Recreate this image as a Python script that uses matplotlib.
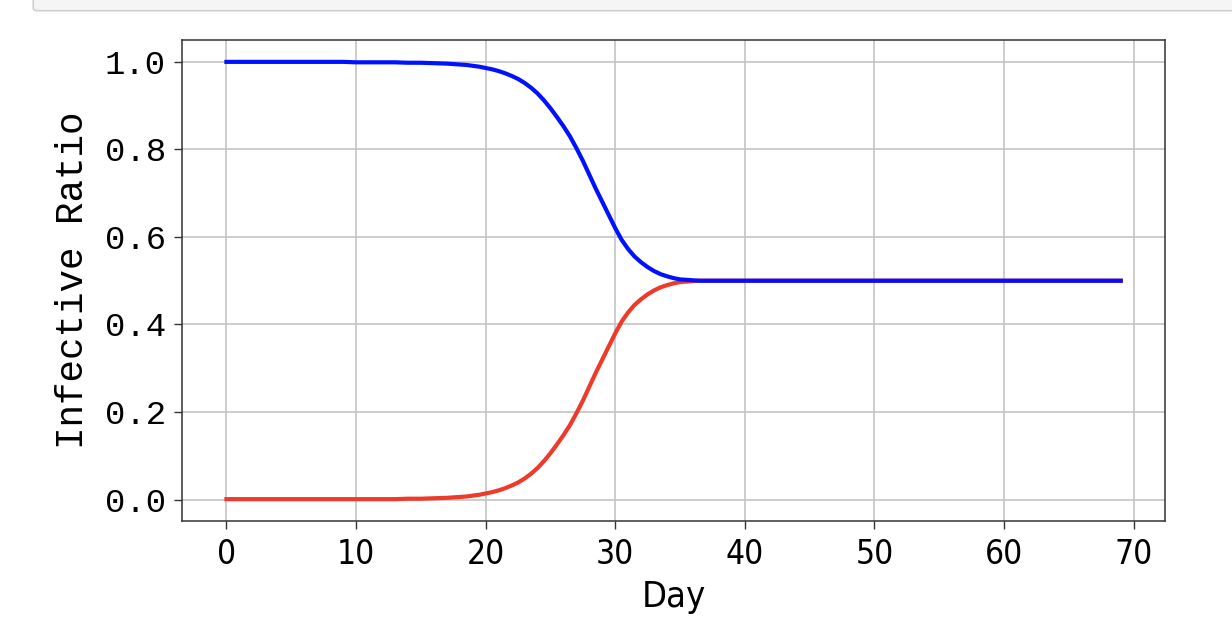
import matplotlib
matplotlib.use('Agg')
import matplotlib.pyplot as plt
from matplotlib.patches import FancyBboxPatch

# sample days: daily at the flat ends, half-day steps through the transition
days = list(range(0, 18)) + [x / 2 for x in range(36, 74)] + list(range(37, 70))

# values
infective = ([0.001] * 14 + [0.002, 0.002, 0.003, 0.004] +
             [0.006, 0.007, 0.009, 0.011, 0.014, 0.017, 0.021, 0.026, 0.032, 0.039,
              0.048, 0.059, 0.072, 0.088, 0.106, 0.126, 0.147, 0.170, 0.197, 0.226,
              0.258, 0.290, 0.320, 0.350, 0.380, 0.407, 0.428, 0.445, 0.458, 0.469,
              0.478, 0.485, 0.490, 0.494, 0.497, 0.498, 0.499, 0.500] +
             [0.500] * 33)

susceptible = ([1.000] * 10 + [0.999] * 4 + [0.998, 0.998, 0.997, 0.996] +
               [0.994, 0.993, 0.991, 0.989, 0.986, 0.983, 0.979, 0.974, 0.968, 0.961,
                0.952, 0.941, 0.928, 0.912, 0.894, 0.874, 0.853, 0.830, 0.803, 0.774,
                0.742, 0.710, 0.680, 0.650, 0.620, 0.593, 0.572, 0.555, 0.542, 0.531,
                0.522, 0.515, 0.510, 0.506, 0.503, 0.502, 0.501, 0.500] +
               [0.500] * 33)

mono = ['Liberation Mono', 'DejaVu Sans Mono']
narrow = ['DejaVu Sans']

fig = plt.figure(figsize=(12.32, 6.3), dpi=100)
ax = fig.add_axes([0.1475, 0.1730, 0.7985, 0.7635])

# notebook cell border at the top of the screenshot
fig.patches.append(FancyBboxPatch((0.027, 0.983), 1.0, 0.04, boxstyle='round,pad=0,rounding_size=0.004',
                                  transform=fig.transFigure, facecolor='#f5f5f5',
                                  edgecolor='#cfcfcf', linewidth=1.2, figure=fig))

ax.plot(days, infective, color='#ee3a2a', linewidth=3.0)
ax.plot(days, susceptible, color='#0011ff', linewidth=3.0)

ax.grid(True, color='#c4c4c4', linewidth=1.2)
ax.set_axisbelow(True)
for s in ax.spines.values():
    s.set_color('#333333')
    s.set_linewidth(1.1)

ax.tick_params(length=5.5, width=1.0, color='#333333')
ax.tick_params(axis='y', pad=6)
ax.tick_params(axis='x', pad=7)
for lab in ax.get_yticklabels():
    lab.set_family(mono)
    lab.set_fontsize(24.5)
for lab in ax.get_xticklabels():
    lab.set_family(narrow)
    lab.set_fontstretch('condensed')
    lab.set_fontsize(24)

ax.set_xlabel('Day', family=narrow, fontstretch='condensed', fontsize=26, labelpad=6)
ax.set_ylabel('Infective Ratio', family=mono, fontsize=27, labelpad=10)

fig.savefig('out.png', dpi=100)
